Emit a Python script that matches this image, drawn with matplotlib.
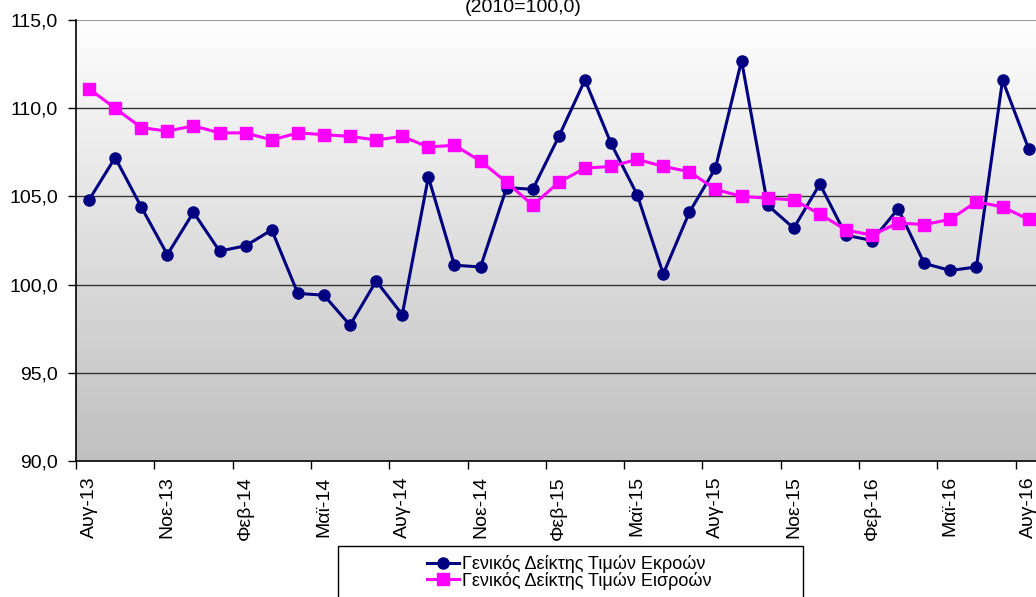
import numpy as np
import matplotlib
matplotlib.use("Agg")
import matplotlib.pyplot as plt
from matplotlib.patches import Rectangle
from matplotlib.colors import LinearSegmentedColormap

plt.rcParams['font.family'] = ['Liberation Sans', 'DejaVu Sans']

# monthly categories Aug-13 .. Aug-16
months = ['Αυγ', 'Σεπ', 'Οκτ', 'Νοε', 'Δεκ', 'Ιαν', 'Φεβ', 'Μαρ', 'Απρ', 'Μαϊ', 'Ιουν', 'Ιουλ']
years = [13, 14, 15, 16]
categories = []
for k in range(37):
    categories.append('%s-%d' % (months[k % 12], years[(k + 7) // 12]))

outputs = [104.8, 107.2, 104.4, 101.7, 104.1, 101.9, 102.2, 103.1, 99.5, 99.4,
           97.7, 100.2, 98.3, 106.1, 101.1, 101.0, 105.5, 105.4, 108.4, 111.6,
           108.0, 105.1, 100.6, 104.1, 106.6, 112.7, 104.5, 103.2, 105.7, 102.8,
           102.5, 104.3, 101.2, 100.8, 101.0, 111.6, 107.7]
inputs = [111.1, 110.0, 108.9, 108.7, 109.0, 108.6, 108.6, 108.2, 108.6, 108.5,
          108.4, 108.2, 108.4, 107.8, 107.9, 107.0, 105.8, 104.5, 105.8, 106.6,
          106.7, 107.1, 106.7, 106.4, 105.4, 105.0, 104.9, 104.8, 104.0, 103.1,
          102.8, 103.5, 103.4, 103.7, 104.7, 104.4, 103.7]

label_out = 'Γενικός Δείκτης Τιμών Εκροών'
label_in = 'Γενικός Δείκτης Τιμών Εισροών'
yticks = [90, 95, 100, 105, 110, 115]

W, H = 1036, 597
fig = plt.figure(figsize=(W / 100, H / 100), dpi=100)
ax = fig.add_axes([76 / W, (H - 461) / H, 991.8 / W, 441 / H])

x = np.arange(len(categories))
ax.set_xlim(-0.5, 37.5)
ax.set_ylim(90, 115)

# gradient background of the plot area
cmap = LinearSegmentedColormap.from_list('bg', ['#fefefe', '#c0c0c0'])
ax.imshow(np.linspace(0, 1, 256).reshape(-1, 1), cmap=cmap, aspect='auto',
          extent=[0, 1, 0, 1], transform=ax.transAxes, zorder=0)

for v in yticks[1:-1]:
    ax.axhline(v, color='#333333', lw=1.0, zorder=1)
ax.axhline(115, color='#999999', lw=1.5, zorder=1)

l1, = ax.plot(x, outputs, color='#000080', lw=2.2, marker='o', markersize=8, zorder=3,
              label=label_out)
l2, = ax.plot(x, inputs, color='#ff00ff', lw=2.2, marker='s', markersize=8, zorder=4,
              label=label_in)

for s in ['top', 'right']:
    ax.spines[s].set_visible(False)
for s in ['left', 'bottom']:
    ax.spines[s].set_color('black')
    ax.spines[s].set_linewidth(1.2)
    ax.spines[s].set_zorder(5)

ax.set_yticks(yticks)
ax.set_yticklabels([('%.1f' % v).replace('.', ',') for v in yticks])
ax.tick_params(axis='y', length=6, width=1, pad=7, labelsize=14)

# ticks between categories, labels on every third category
ax.set_xticks(np.arange(-0.5, 38, 3))
ax.set_xticklabels([])
ax.tick_params(axis='x', which='major', length=6, width=1)
ax.set_xticks(x[::3], minor=True)
ax.set_xticklabels(categories[::3], minor=True, rotation=90, ha='center', va='top')
ax.tick_params(axis='x', which='minor', length=0, pad=11, labelsize=14)

fig.text(523 / W, 1 - 7 / H, '(2010=100,0)', ha='center', va='center', fontsize=14)

# legend box
fig.patches.append(Rectangle((338 / W, -0.1), (803 - 338) / W, 0.1 + (H - 546) / H,
                             transform=fig.transFigure, facecolor='white',
                             edgecolor='black', lw=1.0, zorder=1))
fig.legend(handles=[l1, l2], loc='upper center', bbox_to_anchor=(569 / W, 1 - 546 / H),
           frameon=False, fontsize=13, handlelength=1.8, handletextpad=0.15,
           labelspacing=-0.08, borderpad=0)

fig.savefig('out.png', dpi=100)
